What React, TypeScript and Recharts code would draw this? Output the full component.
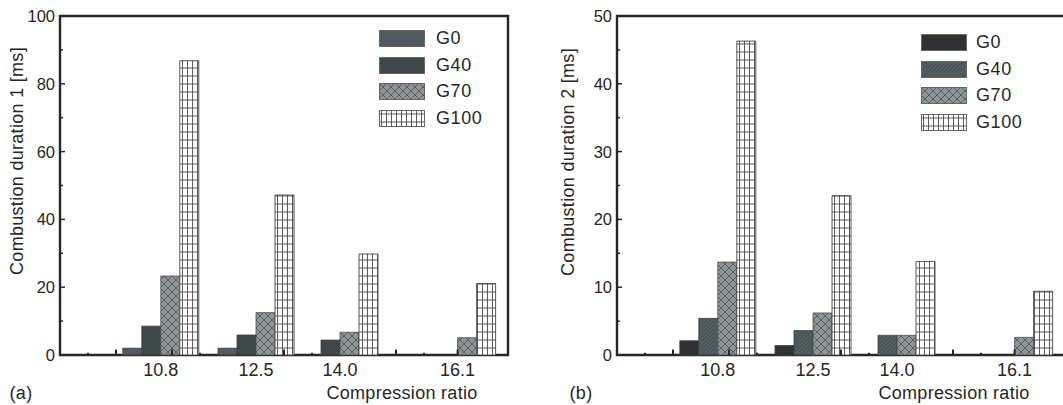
import React from 'react'
import { BarChart, Bar, XAxis, YAxis, Legend, ReferenceArea, ReferenceLine } from 'recharts'

// compression ratios (x positions of the bar groups)
const ratios = [10.8, 12.5, 14.0, 16.1]
const seriesNames = ['G0', 'G40', 'G70', 'G100']

// (a) combustion duration 1 [ms]
const dur1G0 = [2.0, 2.0, 0, 0]
const dur1G40 = [8.5, 5.9, 4.4, 0]
const dur1G70 = [23.3, 12.5, 6.7, 5.1]
const dur1G100 = [86.8, 47.2, 29.8, 21.1]

// (b) combustion duration 2 [ms]
const dur2G0 = [2.1, 1.4, 0, 0]
const dur2G40 = [5.4, 3.6, 2.9, 0]
const dur2G70 = [13.7, 6.2, 2.9, 2.6]
const dur2G100 = [46.3, 23.5, 13.8, 9.4]

const yTicks1 = [0, 10, 20, 30, 40, 50, 60, 70, 80, 90, 100]
const yTicks2 = [0, 5, 10, 15, 20, 25, 30, 35, 40, 45, 50]
// small marks along the bottom axis
const tallTicks = [10, 11, 13, 15, 16.1]
const shortTicks = [9.5, 11.5, 13.5, 15.5]

const FONT = '"Liberation Sans", Arial, Helvetica, sans-serif'
const INK = '#262626'

const rows = (g0: number[], g40: number[], g70: number[], g100: number[]) =>
  ratios.map((r, i) => ({ ratio: r, G0: g0[i], G40: g40[i], G70: g70[i], G100: g100[i] }))

const Patterns = ({ id, g40 }: { id: string; g40: string }) => (
  <defs>
    <pattern id={id + '-g40'} patternUnits='userSpaceOnUse' width={4} height={4}>
      <rect width={4} height={4} fill={g40} />
      <path d='M0,4 L4,0' stroke='#5d696b' strokeWidth={0.8} />
    </pattern>
    <pattern id={id + '-g70'} patternUnits='userSpaceOnUse' width={8} height={8}>
      <rect width={8} height={8} fill='#8f9597' />
      <path d='M0,0 L8,8 M8,0 L0,8' stroke='#596062' strokeWidth={1} />
    </pattern>
    <pattern id={id + '-g100'} patternUnits='userSpaceOnUse' width={5} height={8}>
      <rect width={5} height={8} fill='#ffffff' />
      <path d='M2.5,0 L2.5,8 M0,4 L5,4' stroke='#4a4a4a' strokeWidth={0.9} />
    </pattern>
  </defs>
)

const YTick = (props: any) => {
  const { x, y, payload, step } = props
  const major = payload.value % step === 0
  return (
    <g>
      <line x1={x} x2={x + (major ? 5 : 3)} y1={y} y2={y} stroke={INK} strokeWidth={1.5} />
      {major && (
        <text x={x - 5} y={y} dy={6} textAnchor='end' fontSize={16.5} fontFamily={FONT} fill={INK}>
          {payload.value}
        </text>
      )}
    </g>
  )
}

const XLabelTick = (props: any) => {
  const { x, y, payload } = props
  return (
    <text x={x} y={y + 21} textAnchor='middle' fontSize={18} fontFamily={FONT} fill={INK}>
      {Number(payload.value).toFixed(1)}
    </text>
  )
}

const LegendBox = ({ payload, gap }: any) => {
  const items = [...(payload || [])].sort(
    (p: any, q: any) => seriesNames.indexOf(p.value) - seriesNames.indexOf(q.value)
  )
  return (
    <div style={{ fontFamily: FONT, fontSize: 18, color: INK }}>
      {items.map((e: any) => (
        <div key={e.value} style={{ display: 'flex', alignItems: 'center', height: 17, marginBottom: 9.5 }}>
          <svg width={46} height={17}>
            <rect x={0.5} y={0.5} width={45} height={16} fill={e.color} stroke='#666' strokeWidth={1} />
          </svg>
          <span style={{ marginLeft: gap, letterSpacing: 0.6 }}>{e.value}</span>
        </div>
      ))}
    </div>
  )
}

type PanelProps = {
  id: string
  data: any[]
  yMax: number
  yTicks: number[]
  step: number
  g0: string
  g40: string
  legendLeft: number
  legendTop: number
  legendGap: number
}

const Panel = ({ id, data, yMax, yTicks, step, g0, g40, legendLeft, legendTop, legendGap }: PanelProps) => (
  <BarChart
    width={530}
    height={405}
    data={data}
    barGap={0}
    barCategoryGap={0}
    margin={{ top: 16, right: 22, left: 0, bottom: 0 }}
  >
    <Patterns id={id} g40={g40} />
    <XAxis
      type='number'
      dataKey='ratio'
      domain={[9, 17]}
      ticks={ratios}
      height={50}
      axisLine={false}
      tickLine={false}
      tickSize={0}
      tickMargin={0}
      tick={<XLabelTick />}
      interval={0}
    />
    <YAxis
      type='number'
      domain={[0, yMax]}
      ticks={yTicks}
      width={60}
      axisLine={false}
      tickLine={false}
      tickSize={0}
      tickMargin={0}
      tick={<YTick step={step} />}
      interval={0}
    />
    {tallTicks.map(t => (
      <ReferenceLine key={'t' + t} segment={[{ x: t, y: 0 }, { x: t, y: yMax * 0.016 }]} stroke={INK} strokeWidth={2} />
    ))}
    {shortTicks.map(t => (
      <ReferenceLine key={'s' + t} segment={[{ x: t, y: 0 }, { x: t, y: yMax * 0.007 }]} stroke={INK} strokeWidth={2} />
    ))}
    <ReferenceArea x1={9} x2={17} y1={0} y2={yMax} fill='none' stroke={INK} strokeWidth={2.4} ifOverflow='visible' />
    <Legend
      layout='vertical'
      align='center'
      verticalAlign='middle'
      wrapperStyle={{ left: legendLeft, top: legendTop, width: 'auto' }}
      content={<LegendBox gap={legendGap} />}
    />
    <Bar dataKey='G0' name='G0' barSize={19} fill={g0} stroke='#3a3f40' strokeWidth={0.8} isAnimationActive={false} />
    <Bar dataKey='G40' name='G40' barSize={19} fill={id === 'b' ? `url(#${id}-g40)` : g40} stroke='#3a3f40' strokeWidth={0.8} isAnimationActive={false} />
    <Bar dataKey='G70' name='G70' barSize={19} fill={`url(#${id}-g70)`} stroke='#4a4f50' strokeWidth={0.8} isAnimationActive={false} />
    <Bar dataKey='G100' name='G100' barSize={19} fill={`url(#${id}-g100)`} stroke='#444' strokeWidth={0.9} isAnimationActive={false} />
  </BarChart>
)

const label = (left: number, top: number, text: string, rotate = false) => (
  <div
    style={{
      position: 'absolute',
      left,
      top,
      transform: rotate ? 'translate(-50%, -50%) rotate(-90deg)' : 'translate(-50%, -50%)',
      whiteSpace: 'nowrap',
      fontFamily: FONT,
      fontSize: 18,
      letterSpacing: 0.3,
      color: INK
    }}
  >
    {text}
  </div>
)

export default function App() {
  return (
    <div style={{ position: 'fixed', left: 0, top: 0, width: 1063, height: 405, overflow: 'hidden', background: '#fff' }}>
      <div style={{ position: 'absolute', left: 0, top: 0 }}>
        <Panel
          id='a'
          data={rows(dur1G0, dur1G40, dur1G70, dur1G100)}
          yMax={100}
          yTicks={yTicks1}
          step={20}
          g0='#505b5d'
          g40='#3f4849'
          legendLeft={379}
          legendTop={30}
          legendGap={11}
        />
      </div>
      <div style={{ position: 'absolute', left: 557, top: 0 }}>
        <Panel
          id='b'
          data={rows(dur2G0, dur2G40, dur2G70, dur2G100)}
          yMax={50}
          yTicks={yTicks2}
          step={10}
          g0='#2f3133'
          g40='#4a5658'
          legendLeft={364}
          legendTop={34}
          legendGap={9}
        />
      </div>
      {label(17, 161, 'Combustion duration 1 [ms]', true)}
      {label(568, 162, 'Combustion duration 2 [ms]', true)}
      {label(21, 393, '(a)')}
      {label(581, 393, '(b)')}
      {label(402, 393, 'Compression ratio')}
      {label(954, 393, 'Compression ratio')}
    </div>
  )
}
